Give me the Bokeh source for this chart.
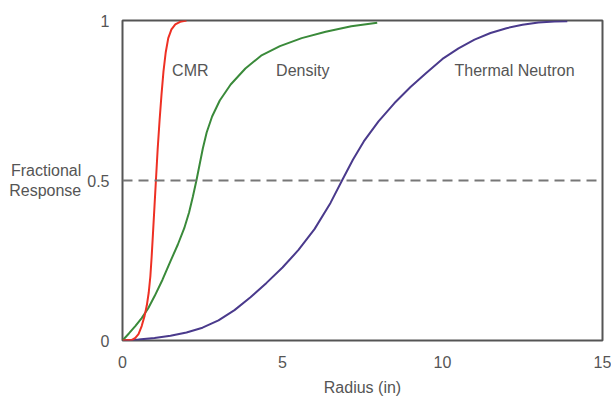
from bokeh.plotting import figure
from bokeh.models import Range1d, Span, Label, FixedTicker
from bokeh.embed import file_html
from bokeh.resources import INLINE

# CMR response curve
cmr_x = [0, 0.3, 0.4, 0.5, 0.6, 0.69, 0.76, 0.82, 0.87, 0.91, 0.95, 1.0, 1.05, 1.1, 1.16, 1.22, 1.28, 1.35, 1.43, 1.53, 1.65, 1.8, 2.0]
cmr_y = [0, 0.002, 0.008, 0.02, 0.045, 0.077, 0.11, 0.15, 0.2, 0.26, 0.33, 0.42, 0.51, 0.6, 0.69, 0.77, 0.84, 0.9, 0.945, 0.972, 0.988, 0.996, 1.0]

# Density response curve
den_x = [0, 0.2, 0.4, 0.6, 0.8, 1.0, 1.25, 1.5, 1.73, 1.93, 2.08, 2.2, 2.31, 2.41, 2.51, 2.63, 2.8, 3.04, 3.38, 3.84, 4.33, 4.92, 5.6, 6.35, 7.15, 7.96]
den_y = [0, 0.022, 0.045, 0.07, 0.1, 0.138, 0.19, 0.248, 0.3, 0.351, 0.4, 0.45, 0.5, 0.55, 0.6, 0.65, 0.7, 0.75, 0.8, 0.85, 0.89, 0.92, 0.945, 0.965, 0.982, 0.993]

# Thermal neutron response curve
tn_x = [0, 0.5, 1.0, 1.5, 2.0, 2.5, 3.0, 3.5, 4.0, 4.5, 5.0, 5.5, 6.0, 6.5, 6.86, 7.2, 7.54, 8.0, 8.5, 9.0, 9.5, 10.0, 10.5, 11.0, 11.5, 12.0, 12.5, 13.0, 13.5, 13.9]
tn_y = [0, 0.003, 0.008, 0.015, 0.025, 0.04, 0.063, 0.095, 0.135, 0.18, 0.228, 0.283, 0.348, 0.43, 0.5, 0.565, 0.622, 0.685, 0.742, 0.792, 0.837, 0.88, 0.913, 0.94, 0.961, 0.976, 0.987, 0.994, 0.997, 0.998]

x_ticks = [0, 5, 10, 15]
y_ticks = [0, 0.5, 1]
y_tick_labels = {0: "0", 0.5: "0.5", 1: "1"}
ref_level = 0.5

curve_labels = ["CMR", "Density", "Thermal Neutron"]
curve_label_x = [1.55, 4.8, 10.375]
curve_label_y = [0.845, 0.845, 0.845]

FONT = "Liberation Sans"
TXT = "#555555"

p = figure(width=611, height=398, output_backend="svg", toolbar_location=None,
           x_range=Range1d(0, 15), y_range=Range1d(0, 1),
           min_border_left=122, min_border_right=9, min_border_top=20, min_border_bottom=54)

p.background_fill_color = "white"
p.border_fill_color = "white"
p.outline_line_color = "#555555"
p.outline_line_width = 2
p.xgrid.visible = False
p.ygrid.visible = False

for ax in (p.xaxis[0], p.yaxis[0]):
    ax.axis_line_color = None
    ax.major_tick_line_color = None
    ax.minor_tick_line_color = None
    ax.major_label_text_font = FONT
    ax.major_label_text_font_size = "16px"
    ax.major_label_text_color = TXT
    ax.axis_label_text_font = FONT
    ax.axis_label_text_font_size = "16px"
    ax.axis_label_text_font_style = "normal"
    ax.axis_label_text_color = TXT

p.xaxis.ticker = FixedTicker(ticks=x_ticks)
p.yaxis.ticker = FixedTicker(ticks=y_ticks)
p.yaxis.major_label_overrides = y_tick_labels
p.xaxis.major_label_standoff = 9
p.yaxis.major_label_standoff = 7
p.xaxis.axis_label = "Radius (in)"
p.xaxis.axis_label_standoff = 8
p.yaxis.axis_label = "Fractional\nResponse"
p.yaxis.axis_label_orientation = "horizontal"
p.yaxis.axis_label_standoff = 3

p.add_layout(Span(location=ref_level, dimension="width", line_color="#777777",
                  line_width=2, line_dash="10 6"))

p.line(tn_x, tn_y, line_color="#4a3a8c", line_width=2)
p.line(den_x, den_y, line_color="#3a8a3a", line_width=2)
p.line(cmr_x, cmr_y, line_color="#ee3024", line_width=2)

for t, lx, ly in zip(curve_labels, curve_label_x, curve_label_y):
    p.add_layout(Label(x=lx, y=ly, text=t, text_font=FONT, text_font_size="16px",
                       text_color=TXT, text_align="left", text_baseline="middle"))

open("out.html", "w").write(file_html(p, INLINE))
